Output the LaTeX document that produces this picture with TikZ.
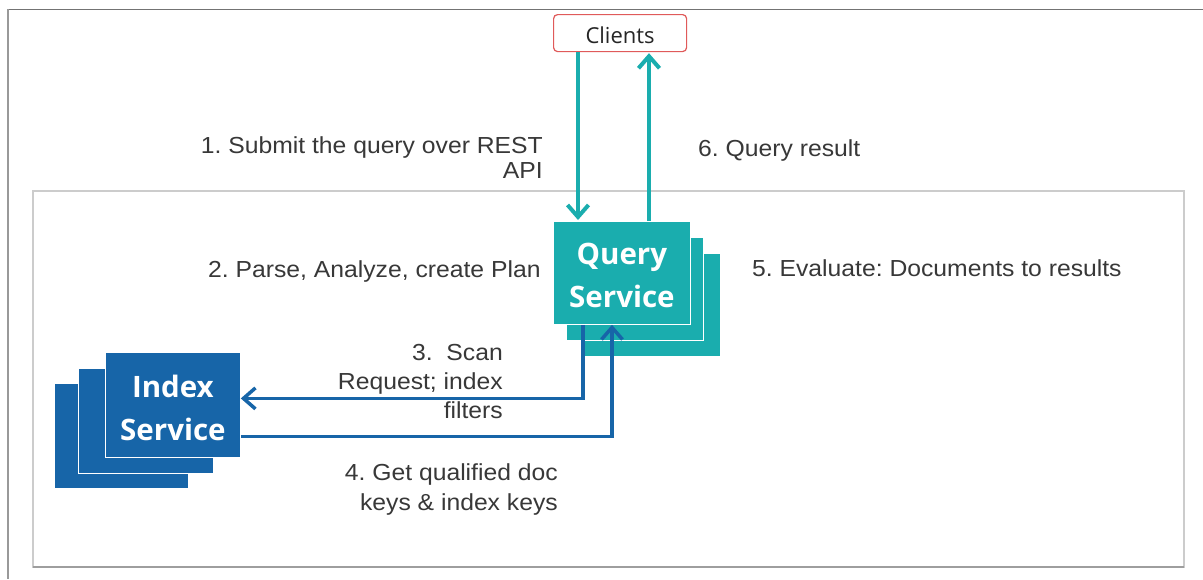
\documentclass[tikz,border=0pt]{standalone}
\usepackage{fontspec}
\setmainfont{Liberation Sans}
\newfontfamily\labelfont[FakeStretch=1.065]{Liberation Sans}
\newfontfamily\boxfont{Open Sans}
\usetikzlibrary{arrows.meta}
\definecolor{qteal}{HTML}{1AADAE}
\definecolor{iblue}{HTML}{1765A8}
\definecolor{txtgray}{HTML}{383838}
\definecolor{cred}{HTML}{E05A5A}
\newcommand\lblfont[1]{\labelfont\fontsize{23.2}{#1}\selectfont}
\frenchspacing

\begin{document}
\begin{tikzpicture}[x=1pt,y=-1pt,
  qbox/.style={fill=qteal, draw=white, line width=0.8pt, anchor=north west,
    minimum width=137pt, minimum height=103pt, inner sep=0pt},
  ibox/.style={fill=iblue, draw=white, line width=0.8pt, anchor=north west,
    minimum width=135pt, minimum height=105pt, inner sep=0pt},
  boxtext/.style={text=white, align=center, inner sep=0pt,
    font=\boxfont\bfseries\fontsize{29.5}{43}\selectfont},
  clientbox/.style={draw=cred, line width=1.2pt, rounded corners=4pt, fill=white,
    minimum width=133pt, minimum height=37pt, anchor=north west, inner sep=0pt,
    text height=20pt, text depth=0pt,
    text=black!85, font=\boxfont\fontsize{22}{26}\selectfont},
  lbl/.style={text=txtgray, inner sep=0pt, font=\lblfont{28}},
  tarrow/.style={draw=qteal, line width=4pt,
    -{Straight Barb[length=12pt,width=21pt]}},
  barrow/.style={draw=iblue, line width=3.5pt,
    -{Straight Barb[length=12pt,width=21pt]}},
]
\useasboundingbox (0,0) rectangle (1203,579);
\fill[white] (0,0) rectangle (1203,579);

% outer frame
\draw[draw=black!55, line width=1.4pt] (1203,9.5) -- (8,9.5);
\draw[draw=black!40, line width=2pt] (8,9) -- (8,579);
% inner frame
\draw[draw=black!20, line width=1.2pt] (33,191) rectangle (1184,567);
\draw[draw=black!38, line width=1.2pt] (33,567) -- (1184,567);

% clients
\node[clientbox] (clients) at (553,14) {Clients};

% query service stack
\node[qbox, minimum width=139pt] (qs3) at (581,253) {};
\node[qbox] (qs2) at (566,237) {};
\node[qbox, label={[boxtext, yshift=-3pt]center:{Query\\Service}}] (qs) at (553,221) {};

% index service stack
\node[ibox, minimum width=134pt] (is3) at (54,383) {};
\node[ibox] (is2) at (78,368) {};
\node[ibox, label={[boxtext, yshift=-3pt]center:{Index\\Service}}] (is) at (105,352) {};

% client <-> query service
\coordinate (cdown) at ([xshift=25pt]clients.south west);
\coordinate (cup) at ([xshift=96pt]clients.south west);
\draw[tarrow, shorten >=1pt] (cdown) -- (cdown |- qs.north);
\draw[tarrow, shorten >=1pt] (cup |- qs.north) -- (cup);

% query service <-> index service
\coordinate (scan) at ([xshift=30pt]qs.south west);
\coordinate (keys) at ([xshift=59pt]qs.south west);
\draw[barrow] (scan) |- ([yshift=6.5pt]is.east);
\draw[barrow] ([yshift=-31.5pt]is.east) -| (keys);

% step labels
\node[lbl, anchor=north east, align=right, font=\lblfont{25}] (l1) at (543,136.5)
  {1. Submit the query over REST\\API};
\node[lbl, anchor=base west] (l6) at (698,156.7) {6. Query result};
\node[lbl, anchor=base west] (l2) at (208,277.7) {2. Parse, Analyze, create Plan};
\node[lbl, anchor=base west] (l5) at (752,276.7) {5. Evaluate: Documents to results};
\node[lbl, anchor=north east, align=right, font=\lblfont{29}] (l3) at (503,344)
  {3.\ \ Scan\\Request; index\\filters};
\node[lbl, anchor=north east, align=right, font=\lblfont{30}] (l4) at (558,463)
  {4. Get qualified doc\\keys \& index keys};
\end{tikzpicture}
\end{document}
